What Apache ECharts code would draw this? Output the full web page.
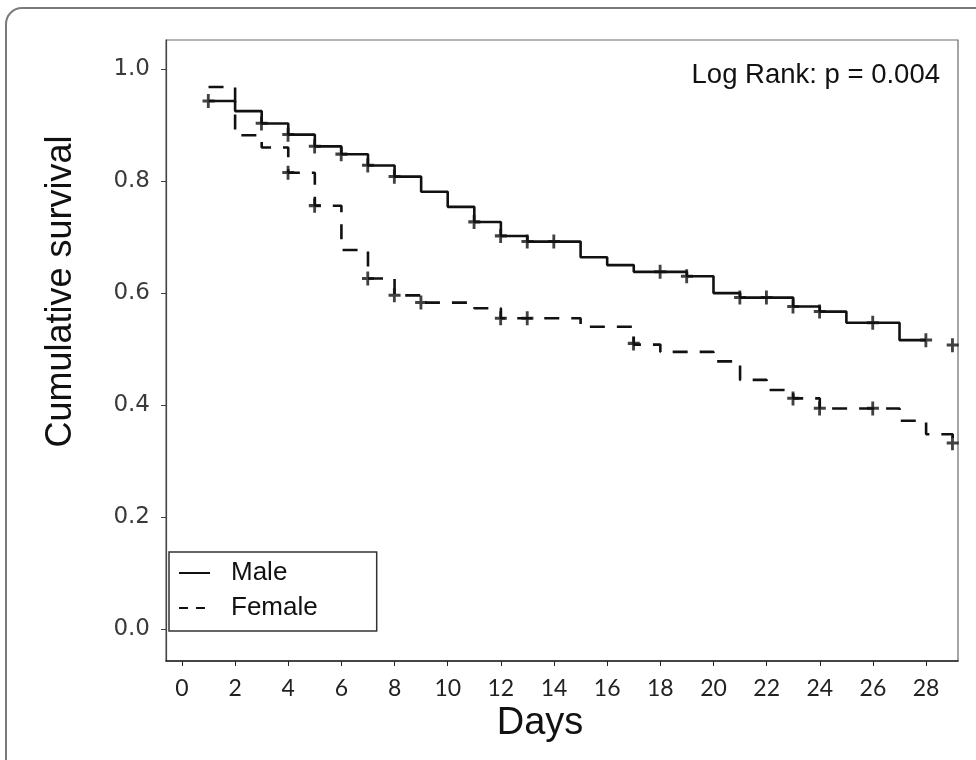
<!DOCTYPE html>
<html lang="en" style="height: 100%">

<head>
  <meta charset="utf-8">
  <style>
    html,
    body {
      margin: 0;
      padding: 0;
      width: 100%;
      height: 100%;
      overflow: hidden;
      background: #fff;
    }
  </style>
</head>

<body>
  <div id="container" style="height: 100%;width: 100%;"></div>

  <script type="text/javascript" src="https://cdn.jsdelivr.net/npm/echarts@6/dist/echarts.min.js"></script>
  <script type="text/javascript">

    // Kaplan-Meier steps
    let maleDays = [1, 2, 3, 4, 5, 6, 7, 8, 9, 10, 11, 12, 13, 15, 16, 17, 19, 20, 21, 23, 24, 25, 27, 28];
    let maleSurv = [0.943, 0.925, 0.903, 0.883, 0.862, 0.848, 0.828, 0.808, 0.781, 0.754, 0.727, 0.702, 0.692, 0.664, 0.650, 0.638, 0.630, 0.600, 0.592, 0.576, 0.567, 0.547, 0.516, 0.516];

    let femaleDays = [1, 2, 3, 4, 5, 6, 7, 8, 9, 11, 12, 15, 17, 18, 20, 21, 22, 23, 24, 27, 28, 29];
    let femaleSurv = [0.968, 0.882, 0.860, 0.815, 0.756, 0.677, 0.626, 0.596, 0.583, 0.573, 0.555, 0.540, 0.508, 0.495, 0.478, 0.445, 0.427, 0.412, 0.394, 0.372, 0.348, 0.332];

    // censored observations (+)
    let maleCensDays = [1, 3, 4, 5, 6, 7, 8, 11, 12, 13, 14, 18, 19, 21, 22, 23, 24, 26, 28, 29];
    let maleCensSurv = [0.943, 0.903, 0.883, 0.862, 0.848, 0.828, 0.808, 0.727, 0.702, 0.692, 0.692, 0.638, 0.630, 0.592, 0.592, 0.576, 0.567, 0.547, 0.516, 0.507];

    let femaleCensDays = [4, 5, 7, 8, 9, 12, 13, 17, 23, 24, 26, 29];
    let femaleCensSurv = [0.815, 0.756, 0.626, 0.596, 0.583, 0.555, 0.555, 0.510, 0.412, 0.394, 0.394, 0.332];

    let xTicks = [0, 2, 4, 6, 8, 10, 12, 14, 16, 18, 20, 22, 24, 26, 28];
    let yTicks = [0, 0.2, 0.4, 0.6, 0.8, 1.0];

    let pValueText = 'Log Rank: p = 0.004';

    function zip(a, b) {
      return a.map((v, i) => [v, b[i]]);
    }

    var dom = document.getElementById('container');
    var myChart = echarts.init(dom, null, {
      renderer: 'canvas'
    });

    const plus = 'path://M4,0h2.6v4.6h4.4v2.6h-4.4v4.8h-2.6v-4.8h-4v-2.6h4z';

    var option = {
      animation: false,
      title: {
        text: pValueText,
        right: 31,
        top: 56,
        textStyle: {
          fontFamily: 'Liberation Sans',
          fontWeight: 'normal',
          fontSize: 27.5,
          color: '#111'
        }
      },
      graphic: [{
        type: 'rect',
        shape: { x: 6, y: 8, width: 1000, height: 800, r: 16 },
        style: { fill: 'none', stroke: '#7a7a7a', lineWidth: 2 },
        silent: true
      }],
      legend: {
        left: 169,
        top: 552,
        orient: 'vertical',
        data: [
          { name: 'Male' },
          { name: 'Female', lineStyle: { type: [9, 8] } }
        ],
        itemWidth: 31,
        itemHeight: 14,
        itemGap: 5,
        padding: [6, 59, 8, 9],
        borderColor: '#333',
        borderWidth: 1.5,
        borderRadius: 0,
        itemStyle: { opacity: 0 },
        textStyle: {
          fontFamily: 'Liberation Sans',
          fontSize: 26,
          lineHeight: 30,
          color: '#111',
          padding: [0, 0, 0, 16]
        }
      },
      grid: {
        left: 166,
        right: 18,
        top: 40,
        bottom: 99,
        show: true,
        borderColor: '#6a6a6a',
        borderWidth: 1.2
      },
      xAxis: {
        type: 'value',
        min: -0.6,
        max: 29.2,
        name: 'Days',
        nameLocation: 'middle',
        nameGap: 33,
        nameTextStyle: {
          fontFamily: 'Liberation Sans',
          fontSize: 38,
          color: '#111',
          padding: [0, 44, 0, 0]
        },
        axisLine: { onZero: false, lineStyle: { color: '#222', width: 1.5 } },
        axisTick: { customValues: xTicks, length: 5, lineStyle: { color: '#222' } },
        axisLabel: {
          customValues: xTicks,
          margin: 16,
          fontFamily: 'Lato',
          fontSize: 23,
          color: '#222'
        },
        splitLine: { show: false }
      },
      yAxis: {
        type: 'value',
        min: -0.057,
        max: 1.052,
        name: 'Cumulative survival',
        nameLocation: 'middle',
        nameGap: 87,
        nameTextStyle: {
          fontFamily: 'Liberation Sans',
          fontSize: 36,
          color: '#111',
          padding: [0, 0, 0, 118]
        },
        axisLine: { show: true, onZero: false, lineStyle: { color: '#444', width: 1.2 } },
        axisTick: { show: true, customValues: yTicks, length: 5, lineStyle: { color: '#444' } },
        axisLabel: {
          customValues: yTicks,
          margin: 16,
          fontFamily: 'DejaVu Sans',
          fontSize: 23,
          color: '#3a3a3a',
          formatter: (v) => v.toFixed(1)
        },
        splitLine: { show: false }
      },
      series: [
        {
          name: 'Male',
          type: 'line',
          step: 'end',
          symbol: 'none',
          color: '#111',
          lineStyle: { color: '#111', width: 2.6 },
          data: zip(maleDays, maleSurv)
        },
        {
          name: 'Female',
          type: 'line',
          step: 'end',
          symbol: 'none',
          color: '#111',
          lineStyle: { color: '#111', width: 2.6, type: [15, 12] },
          data: zip(femaleDays, femaleSurv)
        },
        {
          name: 'Male censored',
          type: 'scatter',
          symbol: plus,
          symbolSize: [12, 14],
          itemStyle: { color: '#111' },
          z: 5,
          data: zip(maleCensDays, maleCensSurv)
        },
        {
          name: 'Female censored',
          type: 'scatter',
          symbol: plus,
          symbolSize: [12, 14],
          itemStyle: { color: '#111' },
          z: 5,
          data: zip(femaleCensDays, femaleCensSurv)
        }
      ]
    };

    if (option && typeof option === 'object') {
      myChart.setOption(option);
    }

    window.addEventListener('resize', myChart.resize);

  </script>
</body>

</html>
